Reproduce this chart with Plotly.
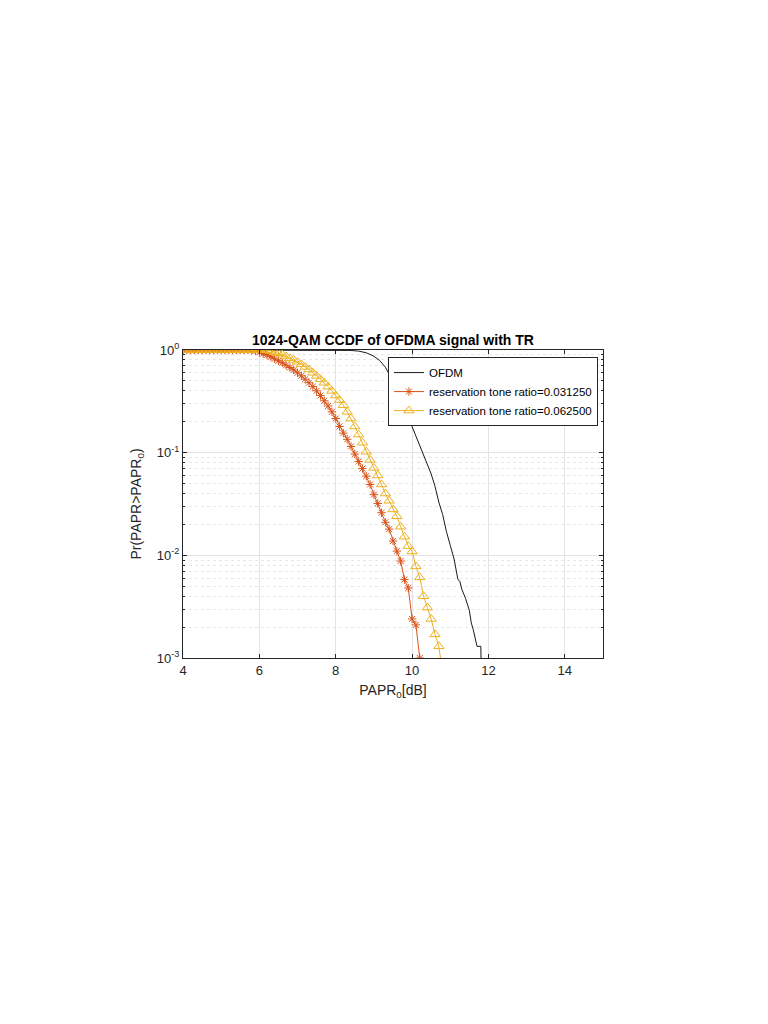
import plotly.graph_objects as go

# ---------------- data ----------------
ofdm_x = [4.0, 8.0, 8.2, 8.4, 8.6, 8.8, 9.0, 9.15, 9.3, 9.4, 9.5, 9.6, 9.7, 9.8, 9.9,
          10.0, 10.1, 10.2, 10.3, 10.4, 10.5, 10.6, 10.7, 10.8, 10.9, 11.0, 11.1,
          11.2, 11.25, 11.3, 11.4, 11.5, 11.55, 11.6, 11.65, 11.7, 11.78, 11.8, 11.82]
ofdm_y = [1.0, 1.0, 0.998, 0.99, 0.975, 0.94, 0.87, 0.79, 0.68, 0.59, 0.50, 0.42, 0.34,
          0.28, 0.225, 0.18, 0.145, 0.12, 0.097, 0.079, 0.062, 0.047, 0.033, 0.025,
          0.017, 0.0125, 0.0092, 0.0058, 0.0056, 0.0047, 0.0038, 0.0029, 0.0022,
          0.0019, 0.0016, 0.0013, 0.0013, 0.0013, 0.0005]

tr1_x = [4.0, 4.1, 4.2, 4.3, 4.4, 4.5, 4.6, 4.7, 4.8, 4.9, 5.0, 5.1, 5.2, 5.3, 5.4,
         5.5, 5.6, 5.7, 5.8, 5.9, 6.0, 6.1, 6.2, 6.3, 6.4, 6.5, 6.6, 6.7, 6.8, 6.9,
         7.0, 7.1, 7.2, 7.3, 7.4, 7.5, 7.6, 7.7, 7.8, 7.9, 8.0, 8.1, 8.2, 8.3, 8.4,
         8.5, 8.6, 8.7, 8.8, 8.9, 9.0, 9.1, 9.2, 9.3, 9.4, 9.5, 9.6, 9.7, 9.8, 9.9,
         10.0, 10.1, 10.2]
tr1_y = [1.0, 1.0, 1.0, 1.0, 1.0, 1.0, 1.0, 1.0, 1.0, 1.0, 1.0, 1.0, 1.0, 1.0, 1.0,
         1.0, 1.0, 1.0,
         0.995, 0.98, 0.95, 0.92, 0.89, 0.86, 0.82, 0.785, 0.75, 0.71, 0.675, 0.64,
         0.60, 0.56, 0.52, 0.48, 0.44, 0.40, 0.36, 0.32, 0.285, 0.25, 0.215, 0.18,
         0.155, 0.135, 0.115, 0.097, 0.082, 0.070, 0.059, 0.049, 0.039, 0.032, 0.026,
         0.021, 0.018, 0.0138, 0.011, 0.0088, 0.0058, 0.0048, 0.0024, 0.0021, 0.001]

tr2_x = [4.0, 4.1, 4.2, 4.3, 4.4, 4.5, 4.6, 4.7, 4.8, 4.9, 5.0, 5.1, 5.2, 5.3, 5.4,
         5.5, 5.6, 5.7, 5.8, 5.9, 6.0, 6.1, 6.2, 6.3, 6.4, 6.5, 6.6, 6.7, 6.8, 6.9,
         7.0, 7.1, 7.2, 7.3, 7.4, 7.5, 7.6, 7.7, 7.8, 7.9, 8.0, 8.1, 8.2, 8.3, 8.4,
         8.5, 8.6, 8.7, 8.8, 8.9, 9.0, 9.1, 9.2, 9.3, 9.4, 9.5, 9.6, 9.7, 9.8, 9.9,
         10.0, 10.1, 10.2, 10.3, 10.4, 10.5, 10.6, 10.7, 10.8]
tr2_y = [1.0, 1.0, 1.0, 1.0, 1.0, 1.0, 1.0, 1.0, 1.0, 1.0, 1.0, 1.0, 1.0, 1.0, 1.0,
         1.0, 1.0, 1.0, 1.0, 1.0, 1.0, 1.0,
         0.995, 0.98, 0.955, 0.93, 0.90, 0.865, 0.83, 0.80, 0.765, 0.725, 0.685,
         0.645, 0.60, 0.56, 0.52, 0.48, 0.44, 0.40, 0.36, 0.325, 0.29, 0.25, 0.215,
         0.18, 0.15, 0.125, 0.102, 0.085, 0.071, 0.06, 0.049, 0.040, 0.034, 0.028,
         0.024, 0.019, 0.0152, 0.0123, 0.0109, 0.0078, 0.0061, 0.0040, 0.0031,
         0.0024, 0.0017, 0.0013, 0.0007]

names = ["OFDM", "reservation tone ratio=0.031250", "reservation tone ratio=0.062500"]
x_ticks = [4, 6, 8, 10, 12, 14]
y_ticks = [0.001, 0.01, 0.1, 1]
y_tick_text = ["10<sup>-3</sup>", "10<sup>-2</sup>", "10<sup>-1</sup>", "10<sup>0</sup>"]
y_minor = [m * d for d in (0.001, 0.01, 0.1) for m in range(2, 10)]

FONT = "Liberation Sans, Arial, Helvetica, sans-serif"
AX = "#262626"

fig = go.Figure()
fig.add_trace(go.Scatter(x=ofdm_x, y=ofdm_y, mode="lines", name=names[0],
                         line=dict(color="#1a1a1a", width=1)))
fig.add_trace(go.Scatter(x=tr1_x, y=tr1_y, mode="lines+markers", name=names[1],
                         line=dict(color="#D95319", width=1),
                         marker=dict(symbol="asterisk-open", size=7,
                                     line=dict(color="#D95319", width=1))))
fig.add_trace(go.Scatter(x=tr2_x, y=tr2_y, mode="lines+markers", name=names[2],
                         line=dict(color="#EDB120", width=1),
                         marker=dict(symbol="triangle-up-open", size=9,
                                     color="#EDB120",
                                     line=dict(color="#EDB120", width=1))))

fig.update_layout(
    width=768, height=1024,
    margin=dict(l=183, r=165, t=350, b=366),
    paper_bgcolor="white", plot_bgcolor="white",
    font=dict(family=FONT, size=13, color=AX),
    title=dict(text="<b>1024-QAM CCDF of OFDMA signal with TR</b>",
               x=(393 / 768), xanchor="center", y=1 - 340 / 1024, yanchor="middle",
               font=dict(family=FONT, size=14, color="black")),
    showlegend=True,
    legend=dict(x=0.988, xanchor="right", y=0.977, yanchor="top",
                bgcolor="white", bordercolor=AX, borderwidth=1,
                font=dict(family=FONT, size=11.5, color="black"),
                tracegroupgap=0, itemwidth=30),
)
fig.update_xaxes(
    range=[4, 15], tickvals=x_ticks, ticks="inside", ticklen=4,
    tickcolor=AX, showline=True, linecolor=AX, linewidth=1, mirror="allticks",
    showgrid=True, gridcolor="#e3e3e3", gridwidth=1, zeroline=False,
    tickfont=dict(size=13, color=AX),
    title=dict(text="PAPR<sub>0</sub>[dB]", font=dict(size=14, color=AX), standoff=8),
)
fig.update_yaxes(
    type="log", range=[-3, 0], tickvals=y_ticks, ticktext=y_tick_text,
    ticks="inside", ticklen=4, tickcolor=AX, showline=True, linecolor=AX,
    linewidth=1, mirror="allticks", showgrid=True, gridcolor="#e3e3e3",
    gridwidth=1, zeroline=False, tickfont=dict(size=13, color=AX),
    minor=dict(tickvals=y_minor, ticks="inside", ticklen=2, tickcolor=AX,
               showgrid=True, gridcolor="#e8e8e8", griddash="dot", gridwidth=1),
    title=dict(text="Pr(PAPR>PAPR<sub>0</sub>)", font=dict(size=14, color=AX),
               standoff=11),
)

fig.write_html("out.html")
